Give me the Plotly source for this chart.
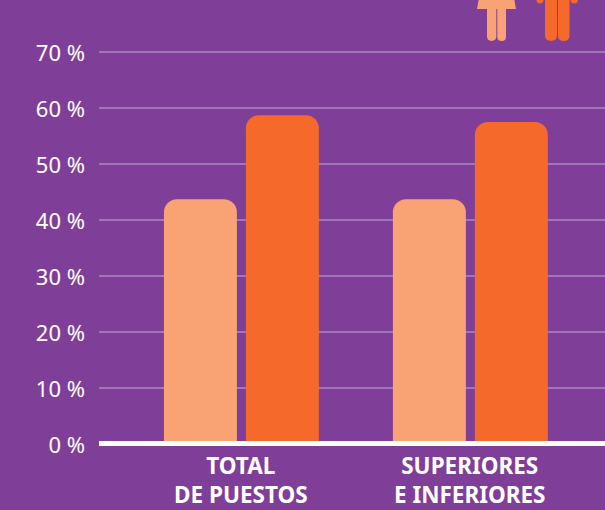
import plotly.graph_objects as go

categories = ["TOTAL DE PUESTOS", "SUPERIORES E INFERIORES"]
label_lines = ["TOTAL<br>DE PUESTOS", "SUPERIORES<br>E INFERIORES"]
mujeres = [43.7, 43.7]
hombres = [58.7, 57.5]
tick_vals = [0, 10, 20, 30, 40, 50, 60, 70]
tick_text = ["0 %", "10 %", "20 %", "30 %", "40 %", "50 %", "60 %", "70 %"]

BG = "#7F3F98"
PEACH = "#F9A274"
ORANGE = "#F5692B"
GRID = "#A077B6"

L, R, BOTTOM = 99, 605, 444
W, H = 605, 510
PLOT_W = R - L

def px(x):
    return (x - L) / PLOT_W

def py(y):
    return (BOTTOM - y) / BOTTOM

def path(points):
    out = []
    for p in points:
        if p[0] == "Z":
            out.append("Z")
        elif p[0] == "Q":
            out.append(f"Q{px(p[1]):.5f},{py(p[2]):.5f} {px(p[3]):.5f},{py(p[4]):.5f}")
        else:
            out.append(f"{p[0]}{px(p[1]):.5f},{py(p[2]):.5f}")
    return " ".join(out)

def leg(x0, x1, top, bottom):
    r = (x1 - x0) / 2
    return path([("M", x0, top), ("L", x0, bottom - r),
                 ("Q", x0, bottom, x0 + r, bottom),
                 ("Q", x1, bottom, x1, bottom - r),
                 ("L", x1, top), ("Z",)])

def shape(d, color):
    return dict(type="path", xref="paper", yref="paper", path=d,
                fillcolor=color, line=dict(width=0), layer="above")

icons = [
    shape(path([("M", 479, -2), ("L", 514, -2), ("L", 516, 9), ("L", 477, 9), ("Z",)]), PEACH),
    shape(leg(487, 496.3, 8, 41), PEACH),
    shape(leg(497.3, 506, 8, 41), PEACH),
    shape(leg(545, 557, -2, 41), ORANGE),
    shape(leg(558, 569.5, -2, 41), ORANGE),
    shape(leg(536.5, 543.5, -4, 3.5), ORANGE),
    shape(leg(570.5, 578, -4, 3.5), ORANGE),
]

fig = go.Figure()
fig.add_bar(x=categories, y=mujeres, name="Mujeres", marker=dict(color=PEACH, line=dict(width=0)))
fig.add_bar(x=categories, y=hombres, name="Hombres", marker=dict(color=ORANGE, line=dict(width=0)))

axis_line = dict(type="line", xref="paper", yref="paper", x0=0, x1=1, y0=py(443.5), y1=py(443.5),
                 line=dict(color="white", width=5), layer="above")

label_font = dict(family="Noto Sans", size=22.5, color="white", weight=700)
annotations = [
    dict(x=cat, xref="x", y=py(510.5), yref="paper", text=text, showarrow=False,
         xanchor="center", yanchor="bottom", borderpad=0, font=label_font)
    for cat, text in zip(categories, label_lines)
]

fig.update_layout(
    width=W, height=H,
    margin=dict(l=L, r=0, t=0, b=H - BOTTOM, pad=0),
    paper_bgcolor=BG, plot_bgcolor=BG,
    showlegend=False,
    barmode="group", bargap=0.284, bargroupgap=0.11, barcornerradius=13,
    shapes=[axis_line] + icons,
    annotations=annotations,
    xaxis=dict(type="category", range=[-0.622, 1.588], showgrid=False, zeroline=False,
               showline=False, ticks="", showticklabels=False),
    yaxis=dict(range=[0, 444 / 5.6], tickvals=tick_vals, ticktext=tick_text,
               showgrid=True, gridcolor=GRID, gridwidth=2, zeroline=False, showline=False,
               ticks="", ticklabelstandoff=13, ticklabelshift=1,
               tickfont=dict(family="Noto Sans", size=22, color="white")),
)
fig.write_html("out.html", config=dict(displayModeBar=False),
               post_script="document.body.style.margin='0';document.body.style.background='" + BG + "';")
